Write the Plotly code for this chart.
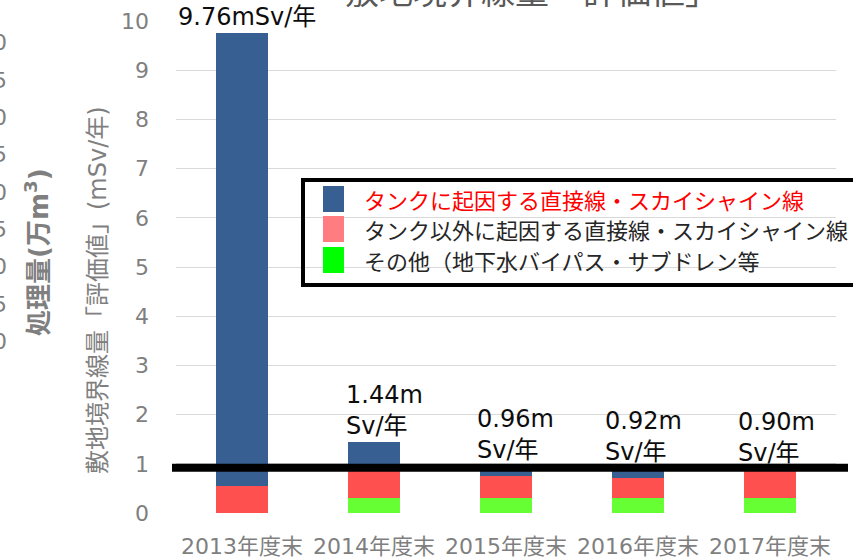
import plotly.graph_objects as go

# ---- data ----
categories = ["2013年度末", "2014年度末", "2015年度末", "2016年度末", "2017年度末"]
tank_direct = [9.22, 0.49, 0.21, 0.20, 0.04]      # タンクに起因する直接線・スカイシャイン線
other_direct = [0.54, 0.65, 0.45, 0.42, 0.56]     # タンク以外に起因する直接線・スカイシャイン線
others = [0.00, 0.30, 0.30, 0.30, 0.30]           # その他（地下水バイパス・サブドレン等
total_labels = ["9.76mSv/年", "1.44m<br>Sv/年", "0.96m<br>Sv/年", "0.92m<br>Sv/年", "0.90m<br>Sv/年"]
series_names = ["タンクに起因する直接線・スカイシャイン線",
                "タンク以外に起因する直接線・スカイシャイン線",
                "その他（地下水バイパス・サブドレン等"]
y_ticks = list(range(0, 11))
limit_line = 0.92

# ---- styling ----
FONT = "DejaVu Sans, Noto Sans CJK JP, sans-serif"
BLUE, RED, GREEN = "#375F91", "#FF5050", "#66FF33"
LEG_COLORS = ["#375F91", "#FF7C80", "#00FF00"]
GREY = "#7F7F7F"
W, H = 853, 560
L, R, T, B = 176, 17, 21, 47
PW, PH = W - L - R, H - T - B

def px(x):
    return (x - L) / PW

def py(y):
    return (H - B - y) / PH

fig = go.Figure()
fig.add_bar(x=categories, y=others, marker_color=GREEN, marker_line_width=0, name=series_names[2])
fig.add_bar(x=categories, y=other_direct, marker_color=RED, marker_line_width=0, name=series_names[1])
fig.add_bar(x=categories, y=tank_direct, marker_color=BLUE, marker_line_width=0, name=series_names[0])

annotations = []
shapes = []

# total labels
totals = [a + b + c for a, b, c in zip(tank_direct, other_direct, others)]
label_shift = [-66, -30, -31, -35, -34]
for i, (cat, tot, lab) in enumerate(zip(categories, totals, total_labels)):
    annotations.append(dict(x=cat, y=tot, xref="x", yref="y", text=lab, showarrow=False,
                            xanchor="left", yanchor="bottom", align="left",
                            xshift=label_shift[i], yshift=0,
                            font=dict(family=FONT, size=24, color="#0D0D0D")))

# limit line
shapes.append(dict(type="line", xref="paper", yref="y", x0=px(172), x1=px(848),
                   y0=limit_line, y1=limit_line, line=dict(color="black", width=8)))

# custom legend
shapes.append(dict(type="rect", xref="paper", yref="paper", x0=px(303), x1=px(880),
                   y0=py(180), y1=py(285), line=dict(color="black", width=4),
                   fillcolor="rgba(0,0,0,0)"))
row_y = [199, 229, 260]
for i, (nm, col) in enumerate(zip(series_names, LEG_COLORS)):
    shapes.append(dict(type="rect", xref="paper", yref="paper", x0=px(323), x1=px(344),
                       y0=py(row_y[i] - 13), y1=py(row_y[i] + 13), line=dict(width=0),
                       fillcolor=col))
    annotations.append(dict(x=px(362), y=py(row_y[i] + 2), xref="paper", yref="paper", text=nm,
                            showarrow=False, xanchor="left", yanchor="middle",
                            font=dict(family=FONT, size=22, color="#FF0000" if i == 0 else "#262626")))

# axis title (rotated)
annotations.append(dict(x=px(98), y=py(290), xref="paper", yref="paper",
                        text="敷地境界線量「評価値」(mSv/年)", textangle=-90, showarrow=False,
                        xanchor="center", yanchor="middle",
                        font=dict(family=FONT, size=24, color=GREY)))
# neighbouring chart's axis title and cut-off tick labels
annotations.append(dict(x=px(37), y=py(252), xref="paper", yref="paper",
                        text="<b>処理量(万m<sup>3</sup>)</b>", textangle=-90, showarrow=False,
                        xanchor="center", yanchor="middle",
                        font=dict(family=FONT, size=26, color=GREY)))
for k in range(9):
    annotations.append(dict(x=px(9), y=py(43 + 37.3 * k), xref="paper", yref="paper",
                            text="0" if k % 2 == 0 else "5", showarrow=False,
                            xanchor="right", yanchor="middle",
                            font=dict(family=FONT, size=22, color=GREY)))
# cut-off chart title
annotations.append(dict(x=px(532), y=py(-8), xref="paper", yref="paper",
                        text="敷地境界線量「評価値」", showarrow=False,
                        xanchor="center", yanchor="middle",
                        font=dict(family=FONT, size=34, color="#595959")))

fig.update_layout(
    width=W, height=H, barmode="stack", bargap=0.6, showlegend=False,
    margin=dict(l=L, r=R, t=T, b=B, autoexpand=False),
    paper_bgcolor="white", plot_bgcolor="white",
    font=dict(family=FONT),
    xaxis=dict(showline=False, ticks="", tickfont=dict(size=22, color=GREY),
               ticklabelstandoff=18, showgrid=False),
    yaxis=dict(range=[0, 10], tickvals=y_ticks, showline=False, ticks="",
               gridcolor="#D9D9D9", gridwidth=1, zeroline=False,
               tickfont=dict(size=22, color=GREY), ticklabelstandoff=26),
    annotations=annotations, shapes=shapes,
)
fig.write_html("out.html", config={"displayModeBar": False},
               post_script="document.body.style.margin='0';document.body.style.overflow='hidden';")
